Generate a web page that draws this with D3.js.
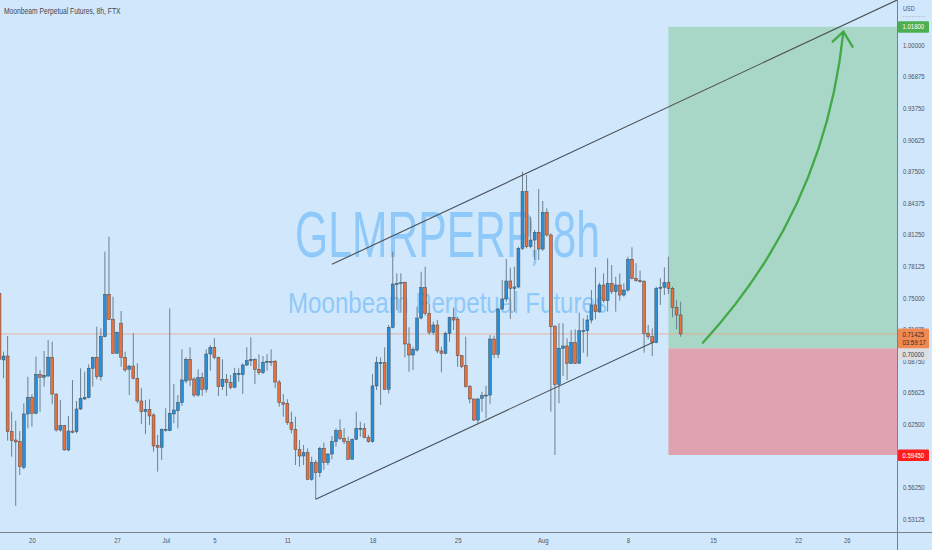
<!DOCTYPE html>
<html>
<head>
<meta charset="utf-8">
<script src="https://cdn.jsdelivr.net/npm/d3@7"></script>
<style>
    html, body { margin: 0; padding: 0; background: #d1e8fc; }
    svg { display: block; font-family: "Liberation Sans", Arial, sans-serif; }
</style>
</head>
<body>
<svg id="chart" width="932" height="550"></svg>
<script>
// GLMR-PERP 8h candles, first bar opens 2022-06-17 08:00 UTC
var firstBar = Date.UTC(2022, 5, 17, 8),
    barHours = 8;

var opens = [
    0.7544, 0.6885, 0.6924, 0.6176, 0.6093, 0.6077, 0.5823, 0.6351, 0.6516, 0.6358,
    0.6743, 0.6714, 0.6726, 0.6911, 0.6548, 0.6192, 0.6235, 0.5995, 0.6182, 0.6176,
    0.6400, 0.6499, 0.6512, 0.6803, 0.6911, 0.6719, 0.7115, 0.7534, 0.7287, 0.6951,
    0.7248, 0.6911, 0.6793, 0.6825, 0.6704, 0.6479, 0.6373, 0.6397, 0.6341, 0.6037,
    0.6021, 0.6192, 0.6185, 0.6351, 0.6383, 0.6462, 0.6677, 0.6892, 0.6697, 0.6538,
    0.6710, 0.6595, 0.6944, 0.7010, 0.6911, 0.6621, 0.6694, 0.6660, 0.6615, 0.6739,
    0.6739, 0.6835, 0.6878, 0.6892, 0.6793, 0.6759, 0.6862, 0.6872, 0.6872, 0.6667,
    0.6462, 0.6456, 0.6265, 0.6199, 0.6001, 0.5935, 0.5968, 0.5705, 0.5869, 0.5770,
    0.6011, 0.5869, 0.5955, 0.6077, 0.6185, 0.6110, 0.6077, 0.5903, 0.6100, 0.6199,
    0.6209, 0.6120, 0.6077, 0.6628, 0.6852, 0.6858, 0.6595, 0.7208, 0.7636, 0.7643,
    0.7653, 0.7043, 0.6934, 0.6983, 0.7300, 0.7600, 0.7347, 0.7159, 0.7231, 0.6974,
    0.6951, 0.7149, 0.7303, 0.7290, 0.6927, 0.6828, 0.6621, 0.6499, 0.6291, 0.6506,
    0.6532, 0.6538, 0.7092, 0.6941, 0.7389, 0.7488, 0.7666, 0.7594, 0.7607, 0.7989,
    0.8549, 0.8005, 0.8071, 0.8148, 0.7982, 0.8345, 0.8121, 0.7214, 0.6644, 0.7000,
    0.7023, 0.6852, 0.7056, 0.6852, 0.7165, 0.7174, 0.7280, 0.7429, 0.7362, 0.7626,
    0.7471, 0.7643, 0.7560, 0.7626, 0.7527, 0.7577, 0.7881, 0.7693, 0.7669, 0.7659,
    0.7149, 0.7115, 0.7056, 0.7594, 0.7604, 0.7649, 0.7594, 0.7406, 0.7330
];

var highs = [
    0.7557, 0.6967, 0.7122, 0.6373, 0.6284, 0.6182, 0.6456, 0.6719, 0.6545, 0.6917,
    0.6786, 0.6974, 0.7082, 0.7066, 0.6555, 0.6489, 0.6242, 0.6331, 0.6687, 0.6479,
    0.6803, 0.6769, 0.6842, 0.6917, 0.7214, 0.7198, 0.7956, 0.8104, 0.7511, 0.7165,
    0.7369, 0.6967, 0.6835, 0.7149, 0.6852, 0.6605, 0.6489, 0.6496, 0.6358, 0.6143,
    0.6209, 0.6407, 0.7396, 0.6647, 0.6538, 0.6990, 0.6911, 0.7010, 0.6714, 0.6793,
    0.6759, 0.6990, 0.7033, 0.7099, 0.6917, 0.6892, 0.6746, 0.6736, 0.6808, 0.6803,
    0.6852, 0.7010, 0.7109, 0.6901, 0.6941, 0.6924, 0.6944, 0.6990, 0.6885, 0.6687,
    0.6548, 0.6496, 0.6373, 0.6324, 0.6093, 0.6044, 0.6011, 0.5928, 0.5896, 0.6027,
    0.6067, 0.5962, 0.6133, 0.6209, 0.6298, 0.6209, 0.6126, 0.6110, 0.6373, 0.6274,
    0.6259, 0.6143, 0.6746, 0.6917, 0.6911, 0.7010, 0.7231, 0.7956, 0.7742, 0.7742,
    0.7659, 0.7208, 0.7016, 0.7412, 0.7758, 0.7807, 0.7445, 0.7263, 0.7280, 0.7016,
    0.7165, 0.7313, 0.7402, 0.7313, 0.6934, 0.7115, 0.6637, 0.6506, 0.6506, 0.6571,
    0.6630, 0.7132, 0.7125, 0.7396, 0.7676, 0.7884, 0.7797, 0.7807, 0.8005, 0.8747,
    0.8714, 0.8302, 0.8170, 0.8576, 0.8457, 0.8385, 0.8138, 0.7231, 0.7248, 0.7248,
    0.7099, 0.7181, 0.7188, 0.7352, 0.7297, 0.7330, 0.7577, 0.7801, 0.7649, 0.7742,
    0.7890, 0.7824, 0.7708, 0.7742, 0.7643, 0.7906, 0.7999, 0.7841, 0.7768, 0.7676,
    0.7231, 0.7198, 0.7610, 0.7693, 0.7801, 0.7906, 0.7610, 0.7478, 0.7461
];

var lows = [
    0.6885, 0.6704, 0.6087, 0.5928, 0.5441, 0.5747, 0.5804, 0.6209, 0.6225, 0.6348,
    0.6373, 0.6621, 0.6719, 0.6447, 0.6176, 0.6176, 0.5988, 0.5982, 0.6160, 0.6160,
    0.6390, 0.6489, 0.6506, 0.6621, 0.6694, 0.6680, 0.7109, 0.7280, 0.6944, 0.6944,
    0.6818, 0.6769, 0.6538, 0.6694, 0.6456, 0.6252, 0.6153, 0.6242, 0.5978, 0.5780,
    0.5896, 0.6176, 0.6180, 0.6259, 0.6209, 0.6430, 0.6654, 0.6628, 0.6516, 0.6522,
    0.6529, 0.6561, 0.6779, 0.6892, 0.6529, 0.6588, 0.6529, 0.6595, 0.6605, 0.6670,
    0.6548, 0.6825, 0.6825, 0.6647, 0.6736, 0.6746, 0.6779, 0.6825, 0.6605, 0.6423,
    0.6324, 0.6242, 0.6160, 0.5846, 0.5829, 0.5846, 0.5698, 0.5691, 0.5507, 0.5725,
    0.5797, 0.5846, 0.5903, 0.6027, 0.6093, 0.6054, 0.5896, 0.5896, 0.6093, 0.6126,
    0.6110, 0.6067, 0.6067, 0.6588, 0.6440, 0.6588, 0.6555, 0.7198, 0.7379, 0.7352,
    0.6911, 0.6769, 0.6786, 0.6967, 0.7285, 0.7323, 0.7132, 0.7132, 0.6951, 0.6763,
    0.6941, 0.7066, 0.7181, 0.6818, 0.6803, 0.6611, 0.6456, 0.6281, 0.6259, 0.6373,
    0.6308, 0.6447, 0.6901, 0.6901, 0.7379, 0.7461, 0.7290, 0.7362, 0.7594, 0.7973,
    0.7989, 0.7989, 0.7874, 0.7874, 0.7963, 0.8104, 0.6373, 0.5945, 0.6456, 0.6726,
    0.6687, 0.6845, 0.6845, 0.6845, 0.6957, 0.6917, 0.7248, 0.7287, 0.7352, 0.7451,
    0.7362, 0.7537, 0.7362, 0.7471, 0.7511, 0.7560, 0.7683, 0.7659, 0.7649, 0.6957,
    0.7089, 0.6924, 0.7050, 0.7429, 0.7527, 0.7537, 0.7307, 0.7188, 0.7115
];

var closes = [
    0.6892, 0.6924, 0.6176, 0.6087, 0.6074, 0.5829, 0.6351, 0.6516, 0.6358, 0.6743,
    0.6714, 0.6733, 0.6911, 0.6548, 0.6192, 0.6235, 0.5995, 0.6182, 0.6170, 0.6400,
    0.6506, 0.6512, 0.6803, 0.6911, 0.6719, 0.7115, 0.7534, 0.7287, 0.6951, 0.7159,
    0.6911, 0.6786, 0.6825, 0.6704, 0.6479, 0.6373, 0.6397, 0.6331, 0.6034, 0.6021,
    0.6199, 0.6199, 0.6358, 0.6390, 0.6462, 0.6687, 0.6892, 0.6687, 0.6538, 0.6710,
    0.6595, 0.6944, 0.7010, 0.6911, 0.6621, 0.6694, 0.6660, 0.6615, 0.6753, 0.6753,
    0.6835, 0.6878, 0.6892, 0.6793, 0.6759, 0.6862, 0.6872, 0.6865, 0.6667, 0.6462,
    0.6447, 0.6265, 0.6199, 0.6001, 0.5935, 0.5968, 0.5705, 0.5869, 0.5770, 0.6011,
    0.5869, 0.5955, 0.6077, 0.6185, 0.6110, 0.6077, 0.5903, 0.6100, 0.6209, 0.6209,
    0.6120, 0.6077, 0.6628, 0.6858, 0.6858, 0.6595, 0.7208, 0.7636, 0.7643, 0.7653,
    0.7043, 0.6934, 0.6990, 0.7300, 0.7600, 0.7347, 0.7159, 0.7231, 0.6974, 0.6951,
    0.7149, 0.7303, 0.7280, 0.6927, 0.6818, 0.6621, 0.6499, 0.6291, 0.6499, 0.6532,
    0.6538, 0.7092, 0.6941, 0.7389, 0.7488, 0.7666, 0.7594, 0.7607, 0.7989, 0.8549,
    0.8005, 0.8071, 0.8148, 0.7982, 0.8345, 0.8121, 0.7214, 0.6644, 0.7000, 0.7023,
    0.6852, 0.7056, 0.6852, 0.7174, 0.7174, 0.7280, 0.7429, 0.7362, 0.7626, 0.7471,
    0.7643, 0.7560, 0.7626, 0.7527, 0.7577, 0.7881, 0.7693, 0.7669, 0.7659, 0.7149,
    0.7115, 0.7056, 0.7594, 0.7604, 0.7649, 0.7594, 0.7406, 0.7330, 0.71425
];

var priceTicks = [0.53125, 0.5625, 0.59375, 0.625, 0.65625, 0.6875, 0.71875, 0.75,
    0.78125, 0.8125, 0.84375, 0.875, 0.90625, 0.9375, 0.96875, 1.0];

var dateTicks = [
    Date.UTC(2022, 5, 20), Date.UTC(2022, 5, 27), Date.UTC(2022, 6, 1), Date.UTC(2022, 6, 5),
    Date.UTC(2022, 6, 11), Date.UTC(2022, 6, 18), Date.UTC(2022, 6, 25), Date.UTC(2022, 7, 1),
    Date.UTC(2022, 7, 8), Date.UTC(2022, 7, 15), Date.UTC(2022, 7, 22), Date.UTC(2022, 7, 26)
];
var dateTickLabels = ["20", "27", "Jul", "5", "11", "18", "25", "Aug", "8", "15", "22", "26"];

// drawings, as [bar index, price]
var upperChannel = [[82, 0.7831], [221.5, 1.0447]];
var lowerChannel = [[78, 0.5507], [161.5, 0.7066]];
var arrowCurve = [[173.5, 0.7056], [203.6, 0.8368], [208.15, 1.0132]];
var arrowHead = [[205.5, 1.0033], [208.15, 1.0132], [210.4, 0.9983]];

// long position tool
var positionBars = [165, 230];
var entryPrice = 0.70,
    targetPrice = 1.018,
    stopPrice = 0.5945;

var lastPrice = 0.71425,
    countdown = "03:59:17";

var title = "Moonbeam Perpetual Futures, 8h, FTX",
    watermark = "GLMRPERP, 8h",
    watermarkSub = "Moonbeam Perpetual Futures";

var width = 932,
    height = 550,
    plotWidth = 897,
    plotHeight = 532;

var colors = {
    up: "#2a8fd8",
    down: "#e8703c",
    border: "#3f4a54",
    wick: "#6d808f",
    text: "#50535e"
};

function barTime(i) {
    return new Date(firstBar + i * barHours * 3600 * 1000);
}

// squash glyphs horizontally, the snapshot is narrow
function squeeze(selection, k) {
    selection.each(function () {
        var len = this.getComputedTextLength();
        d3.select(this).attr("textLength", len * k).attr("lengthAdjust", "spacingAndGlyphs");
    });
}

var svg = d3.select("#chart");

var xScale = d3.scaleUtc()
    .domain([Date.UTC(2022, 5, 17, 9), Date.UTC(2022, 7, 30, 3)])
    .range([0, plotWidth]);

var yScale = d3.scaleLinear()
    .domain([0.51835, 1.0445])
    .range([plotHeight, 0]);

function px(p) { return xScale(barTime(p[0])); }
function py(p) { return yScale(p[1]); }

svg.append("rect")
    .attr("width", width)
    .attr("height", height)
    .attr("fill", "#d1e8fc");

svg.append("clipPath")
    .attr("id", "plot-clip")
    .append("rect")
    .attr("width", plotWidth)
    .attr("height", plotHeight);

var plot = svg.append("g").attr("clip-path", "url(#plot-clip)");

// watermark
plot.append("text")
    .attr("x", 447.5)
    .attr("y", 257)
    .attr("text-anchor", "middle")
    .attr("font-size", 64)
    .attr("fill", "#8fc9f9")
    .attr("textLength", 305)
    .attr("lengthAdjust", "spacingAndGlyphs")
    .text(watermark);

plot.append("text")
    .attr("x", 447.5)
    .attr("y", 313)
    .attr("text-anchor", "middle")
    .attr("font-size", 30)
    .attr("fill", "#8fc9f9")
    .attr("textLength", 319)
    .attr("lengthAdjust", "spacingAndGlyphs")
    .text(watermarkSub);

// position boxes
var boxLeft = xScale(barTime(positionBars[0])),
    boxRight = xScale(barTime(positionBars[1]));

plot.append("rect")
    .attr("x", boxLeft)
    .attr("y", yScale(targetPrice))
    .attr("width", boxRight - boxLeft)
    .attr("height", yScale(entryPrice) - yScale(targetPrice))
    .attr("fill", "#a8d7c8");

plot.append("rect")
    .attr("x", boxLeft)
    .attr("y", yScale(entryPrice))
    .attr("width", boxRight - boxLeft)
    .attr("height", yScale(stopPrice) - yScale(entryPrice))
    .attr("fill", "#e0a2b1");

// last price line
plot.append("line")
    .attr("x1", 0)
    .attr("x2", plotWidth)
    .attr("y1", yScale(lastPrice))
    .attr("y2", yScale(lastPrice))
    .attr("stroke", "#eea58c")
    .attr("stroke-width", 1)
    .attr("opacity", 0.8);

// candles
var bars = d3.range(opens.length).map(function (i) {
    return {time: barTime(i), open: opens[i], high: highs[i], low: lows[i], close: closes[i]};
});
var step = xScale(barTime(1)) - xScale(barTime(0)),
    bodyWidth = step * 0.72;

var candle = plot.append("g")
    .selectAll("g")
    .data(bars)
    .join("g");

candle.append("line")
    .attr("x1", function (d) { return xScale(d.time); })
    .attr("x2", function (d) { return xScale(d.time); })
    .attr("y1", function (d) { return yScale(d.high); })
    .attr("y2", function (d) { return yScale(d.low); })
    .attr("stroke", colors.wick)
    .attr("stroke-width", 1);

candle.append("rect")
    .attr("x", function (d) { return xScale(d.time) - bodyWidth / 2; })
    .attr("y", function (d) { return yScale(Math.max(d.open, d.close)); })
    .attr("width", bodyWidth)
    .attr("height", function (d) {
        return Math.max(1, Math.abs(yScale(d.open) - yScale(d.close)));
    })
    .attr("fill", function (d) { return d.close >= d.open ? colors.up : colors.down; })
    .attr("stroke", colors.border)
    .attr("stroke-width", 0.5);

// channel
[upperChannel, lowerChannel].forEach(function (seg) {
    plot.append("line")
        .attr("x1", px(seg[0]))
        .attr("y1", py(seg[0]))
        .attr("x2", px(seg[1]))
        .attr("y2", py(seg[1]))
        .attr("stroke", "#4b4f56")
        .attr("stroke-width", 1.1);
});

// arrow
var curve = d3.path();
curve.moveTo(px(arrowCurve[0]), py(arrowCurve[0]));
curve.quadraticCurveTo(px(arrowCurve[1]), py(arrowCurve[1]), px(arrowCurve[2]), py(arrowCurve[2]));

plot.append("path")
    .attr("d", curve.toString())
    .attr("fill", "none")
    .attr("stroke", "#43a846")
    .attr("stroke-width", 2.3)
    .attr("stroke-linecap", "round");

plot.append("path")
    .attr("d", d3.line().x(px).y(py)(arrowHead))
    .attr("fill", "none")
    .attr("stroke", "#43a846")
    .attr("stroke-width", 2.3)
    .attr("stroke-linecap", "round")
    .attr("stroke-linejoin", "round");

// axes
var yAxis = d3.axisRight(yScale)
    .tickValues(priceTicks)
    .tickFormat(d3.format(".5f"))
    .tickSize(0)
    .tickPadding(6);

var yAxisG = svg.append("g")
    .attr("transform", "translate(" + plotWidth + ",0)")
    .call(yAxis);
yAxisG.select(".domain").remove();
yAxisG.selectAll("text")
    .attr("font-family", "Liberation Sans, Arial, sans-serif")
    .attr("font-size", 7.5)
    .attr("fill", colors.text)
    .call(squeeze, 0.8);

var xAxis = d3.axisBottom(xScale)
    .tickValues(dateTicks.map(function (t) { return new Date(t); }))
    .tickFormat(function (d, i) { return dateTickLabels[i]; })
    .tickSize(0)
    .tickPadding(6);

var xAxisG = svg.append("g")
    .attr("transform", "translate(0," + plotHeight + ")")
    .call(xAxis);
xAxisG.select(".domain").remove();
xAxisG.selectAll("text")
    .attr("font-family", "Liberation Sans, Arial, sans-serif")
    .attr("font-size", 7.5)
    .attr("fill", colors.text)
    .call(squeeze, 0.8);

// separators
svg.append("line")
    .attr("x1", plotWidth + 0.5).attr("x2", plotWidth + 0.5)
    .attr("y1", 0).attr("y2", height)
    .attr("stroke", "#7b7f88")
    .attr("stroke-width", 1);

svg.append("line")
    .attr("x1", 0).attr("x2", width)
    .attr("y1", plotHeight + 0.5).attr("y2", plotHeight + 0.5)
    .attr("stroke", "#7b7f88")
    .attr("stroke-width", 1);

// currency
svg.append("text")
    .attr("x", plotWidth + 6)
    .attr("y", 11)
    .attr("font-size", 7)
    .attr("fill", colors.text)
    .text("USD")
    .call(squeeze, 0.8);

svg.append("line")
    .attr("x1", plotWidth + 6).attr("x2", plotWidth + 28)
    .attr("y1", 16.5).attr("y2", 16.5)
    .attr("stroke", "#9aa3ad")
    .attr("stroke-width", 0.6)
    .attr("stroke-dasharray", "1.5,1.5");

// price labels on the scale
function priceLabel(top, h, fill, textColor, lines) {
    var g = svg.append("g");
    g.append("rect")
        .attr("x", plotWidth + 1)
        .attr("y", top)
        .attr("width", 31)
        .attr("height", h)
        .attr("rx", 1)
        .attr("fill", fill);
    lines.forEach(function (line, i) {
        g.append("text")
            .attr("x", plotWidth + 5.5)
            .attr("y", top + 5.5 + i * 8.5)
            .attr("dy", "0.35em")
            .attr("font-size", 7.5)
            .attr("fill", textColor)
            .text(line)
            .call(squeeze, 0.8);
    });
}

var fmt = d3.format(".5f");
var lastTop = yScale(lastPrice) - 5.5;

priceLabel(yScale(targetPrice) - 5.5, 11.5, "#4caf50", "#ffffff", [fmt(targetPrice)]);
priceLabel(lastTop, 20, "#f08a52", "#3a2b22", [fmt(lastPrice), countdown]);
priceLabel(Math.max(yScale(entryPrice) - 5.5, lastTop + 20), 11.5, "#dcdee3", "#3c3f46", [fmt(entryPrice)]);
priceLabel(yScale(stopPrice) - 5.5, 11.5, "#ff1e1e", "#ffffff", [fmt(stopPrice)]);

// title
svg.append("text")
    .attr("x", 4)
    .attr("y", 14)
    .attr("font-size", 9)
    .attr("fill", "#434651")
    .attr("textLength", 116.5)
    .attr("lengthAdjust", "spacingAndGlyphs")
    .text(title);
</script>
</body>
</html>
